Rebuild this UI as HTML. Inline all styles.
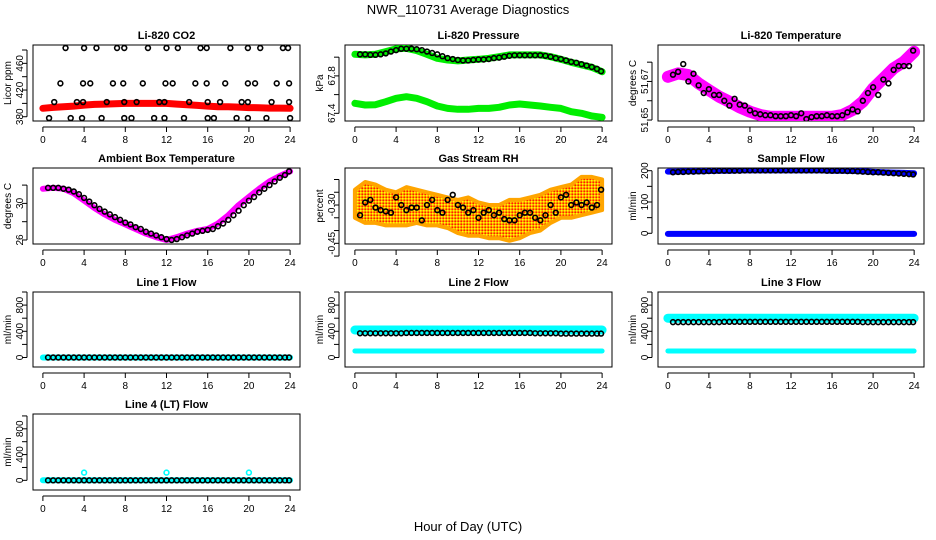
<!DOCTYPE html>
<html><head><meta charset="utf-8"><style>
body{margin:0;background:#fff;}
svg{display:block;font-family:"Liberation Sans",sans-serif;}
</style></head><body>
<svg id="chart" width="936" height="540" viewBox="0 0 936 540" xmlns="http://www.w3.org/2000/svg">
<rect width="936" height="540" fill="#fff"/>
<text x="468" y="14" text-anchor="middle" font-size="13">NWR_110731  Average Diagnostics</text>
<text x="468" y="531" text-anchor="middle" font-size="13">Hour of Day (UTC)</text>
<defs>
<pattern id="rhpat" width="3" height="3" patternUnits="userSpaceOnUse"><rect width="3" height="3" fill="#ffa500"/><rect width="1.5" height="1.5" fill="#ffff00"/><rect x="1.5" y="1.5" width="1.5" height="1.5" fill="#ff2000"/></pattern>
</defs>
<g id="plots"></g>
</svg>
<script>
// ---- data ----
const hourly = [0,1,2,3,4,5,6,7,8,9,10,11,12,13,14,15,16,17,18,19,20,21,22,23,24];
const halfHours = [0.5,1,1.5,2,2.5,3,3.5,4,4.5,5,5.5,6,6.5,7,7.5,8,8.5,9,9.5,10,10.5,11,11.5,12,12.5,13,13.5,14,14.5,15,15.5,16,16.5,17,17.5,18,18.5,19,19.5,20,20.5,21,21.5,22,22.5,23,23.5,23.9];
const xTicks = [0,4,8,12,16,20,24];

const co2Red = [392.6,394,395,396,397.5,398.5,399,399.5,400,400,400,400,400,399,398,397,396,395,395,394.5,393.7,393.5,393,393,392.6];
const co2BlackHours = [2.2,4.0,5.2,7.2,7.9,10.2,12.0,13.1,15.3,15.9,18.2,19.9,21.1,23.3,23.8, 1.7,3.9,4.6,6.8,7.8,9.7,11.9,12.6,14.8,15.9,17.7,19.9,20.6,22.7,23.9, 1.1,3.3,3.9,6.2,7.9,9.1,11.3,11.8,14.2,16.0,17.2,19.3,19.9,22.2,23.9, 0.6,2.7,3.8,5.7,7.9,8.6,10.8,11.8,13.7,16.0,16.6,18.8,19.9,21.7,24.0];
const co2BlackVals = [483,483,483,483,483,483,483,483,483,483,483,483,483,483,483, 430,430,430,430,430,430,430,430,430,430,430,430,430,430,430, 402,402,402,402,402,402,402,402,402,402,402,402,402,402,402, 378,378,378,378,378,378,378,378,378,378,378,378,378,378,378];

const presUpper = [68.031,68.024,68.031,68.059,68.088,68.095,68.07,68.031,67.988,67.97,67.96,67.97,67.977,67.988,68.005,68.024,68.024,68.024,68.024,68.005,67.977,67.945,67.917,67.892,67.845];
const presLower = [67.507,67.489,67.492,67.524,67.56,67.578,67.56,67.524,67.478,67.453,67.443,67.443,67.453,67.453,67.464,67.489,67.5,67.489,67.478,67.464,67.453,67.417,67.4,67.371,67.357];
const presBlack = [68.03,68.03,68.025,68.025,68.03,68.04,68.06,68.075,68.09,68.09,68.09,68.085,68.075,68.06,68.045,68.03,68.01,67.99,67.98,67.97,67.965,67.965,67.97,67.975,67.975,67.98,67.99,67.995,68.005,68.015,68.02,68.02,68.02,68.02,68.02,68.02,68.015,68.005,67.99,67.98,67.965,67.95,67.94,67.925,67.91,67.895,67.875,67.85];

const tempBand = [51.6724,51.6742,51.6733,51.669,51.6655,51.6621,51.6595,51.6566,51.6543,51.6526,51.6517,51.6517,51.6517,51.6517,51.6517,51.6517,51.6517,51.6526,51.6552,51.6595,51.6664,51.6716,51.6768,51.6802,51.6854];
const tempBlack = [51.6735,51.675,51.679,51.670,51.674,51.668,51.664,51.666,51.663,51.663,51.660,51.6575,51.661,51.658,51.6575,51.655,51.6535,51.653,51.6525,51.6525,51.652,51.652,51.652,51.6525,51.652,51.6535,51.6505,51.6515,51.652,51.652,51.6525,51.652,51.652,51.6525,51.654,51.6555,51.6545,51.660,51.664,51.667,51.663,51.671,51.669,51.676,51.678,51.678,51.678,51.686];

const ambLine = [31.6,31.7,31.6,31.1,30.3,29.5,28.8,28.2,27.7,27.2,26.7,26.3,26.0,26.3,26.7,27.0,27.2,27.8,28.7,29.8,30.7,31.6,32.4,33.0,33.5];
const ambBlack = [31.7,31.7,31.7,31.6,31.5,31.3,31.0,30.6,30.2,29.8,29.4,29.1,28.8,28.5,28.2,27.9,27.7,27.4,27.2,26.9,26.7,26.5,26.3,26.1,26.0,26.1,26.3,26.5,26.7,26.9,27.0,27.1,27.2,27.5,27.8,28.2,28.7,29.2,29.8,30.3,30.7,31.2,31.6,32.0,32.4,32.8,33.1,33.5];

const rhUpper = [-0.24,-0.21,-0.22,-0.24,-0.25,-0.23,-0.24,-0.25,-0.26,-0.27,-0.28,-0.27,-0.29,-0.30,-0.30,-0.28,-0.28,-0.27,-0.26,-0.24,-0.23,-0.22,-0.19,-0.19,-0.20];
const rhLower = [-0.35,-0.37,-0.37,-0.38,-0.38,-0.38,-0.37,-0.38,-0.38,-0.39,-0.41,-0.42,-0.42,-0.43,-0.43,-0.44,-0.43,-0.41,-0.40,-0.37,-0.35,-0.35,-0.34,-0.33,-0.32];
const rhBlack = [-0.34,-0.29,-0.28,-0.31,-0.32,-0.325,-0.33,-0.27,-0.30,-0.32,-0.31,-0.31,-0.36,-0.30,-0.28,-0.32,-0.33,-0.28,-0.26,-0.30,-0.31,-0.33,-0.32,-0.35,-0.33,-0.32,-0.34,-0.33,-0.355,-0.36,-0.36,-0.34,-0.33,-0.33,-0.35,-0.36,-0.34,-0.30,-0.33,-0.27,-0.26,-0.30,-0.29,-0.30,-0.29,-0.31,-0.30,-0.24];

const flowUpper = [197,197,198,198,199,200,200,201,201,201,201,201,201,201,201,201,200,200,199,198,196,195,194,193,192];
const flowLower = [-2,-2,-2,-2,-2,-2,-2,-2,-2,-2,-2,-2,-2,-2,-2,-2,-2,-2,-2,-2,-2,-2,-2,-2,-2];
const flowBlack = [195,196,196,197,197,198,198,199,199,200,200,200,200,200,201,201,201,201,201,201,201,201,201,201,201,201,201,201,201,201,200,200,200,200,199,199,198,197,196,195,195,194,193,192,191,190,189,188];

const line1Cyan = [0,0,0,0,0,0,0,0,0,0,0,0,0,0,0,0,0,0,0,0,0,0,0,0,0];
const line1Black = [0,0,0,0,0,0,0,0,0,0,0,0,0,0,0,0,0,0,0,0,0,0,0,0,0,0,0,0,0,0,0,0,0,0,0,0,0,0,0,0,0,0,0,0,0,0,0,0];
const line2CyanUp = [420,420,420,420,420,420,420,420,420,420,420,420,420,420,420,420,420,420,420,420,420,420,420,420,420];
const line2CyanLow = [100,100,100,100,100,100,100,100,100,100,100,100,100,100,100,100,100,100,100,100,100,100,100,100,100];
const line2Black = [370,370,370,370,370,370,370,370,370,375,375,375,375,375,375,375,375,375,375,375,375,375,375,375,375,375,375,375,375,375,375,375,375,375,370,370,370,370,370,365,365,365,365,365,365,365,365,365];
const line3CyanUp = [600,600,600,600,600,600,600,600,600,600,600,600,600,600,600,600,600,600,600,600,600,600,600,600,600];
const line3CyanLow = [100,100,100,100,100,100,100,100,100,100,100,100,100,100,100,100,100,100,100,100,100,100,100,100,100];
const line3Black = [540,540,540,540,540,540,540,540,540,540,545,545,545,545,545,545,545,545,545,545,545,545,545,545,545,545,545,545,545,545,545,545,545,545,545,545,545,540,540,540,540,540,540,540,540,540,540,540];
const line4Cyan = [0,0,0,0,0,0,0,0,0,0,0,0,0,0,0,0,0,0,0,0,0,0,0,0,0];
const line4OutHours = [4,12,20];
const line4OutVals = [120,120,120];
const line4Black = [0,0,0,0,0,0,0,0,0,0,0,0,0,0,0,0,0,0,0,0,0,0,0,0,0,0,0,0,0,0,0,0,0,0,0,0,0,0,0,0,0,0,0,0,0,0,0,0];

// ---- layout ----
const NS = "http://www.w3.org/2000/svg";
const root = document.getElementById('plots');
const colL = [33,345,658], colR = [300,612,924];
const rowT = [45,168,292,414], rowB = [121,244,367,490];
const XMIN = -0.96, XMAX = 24.96;

function mk(tag, attrs, parent){
  const e = document.createElementNS(NS, tag);
  for (const k in attrs) e.setAttribute(k, attrs[k]);
  (parent||root).appendChild(e);
  return e;
}

function panel(c, r, title, ylab, ymin, ymax, yticks, ylabels, key){
  const L=colL[c], R=colR[c], T=rowT[r], B=rowB[r];
  const g = mk('g', {});
  
  
  const p = {g, L, R, T, B,
    x: h => L + (h - XMIN) / (XMAX - XMIN) * (R - L),
    y: v => B - (v - ymin) / (ymax - ymin) * (B - T)};
  const box = mk('rect', {x:L, y:T, width:R-L, height:B-T, fill:'none', stroke:'#000', 'stroke-width':1}, g);
  
  
  const t = mk('text', {x:(L+R)/2, y:T-6, 'text-anchor':'middle', 'font-size':11, 'font-weight':'bold'}, g);
  t.textContent = title;
  
  
  const yl = mk('text', {transform:`translate(${L-22},${(T+B)/2}) rotate(-90)`, 'text-anchor':'middle', 'font-size':10}, g);
  yl.textContent = ylab;
  
  
  // x axis
  mk('line', {x1:p.x(0), x2:p.x(24), y1:B+6, y2:B+6, stroke:'#000'}, g);
  xTicks.forEach(h => {
    mk('line', {x1:p.x(h), x2:p.x(h), y1:B+6, y2:B+11, stroke:'#000'}, g);
    const tl = mk('text', {x:p.x(h), y:B+22, 'text-anchor':'middle', 'font-size':10}, g);
    tl.textContent = h;
    
    
  });
  // y axis
  mk('line', {x1:L-6, x2:L-6, y1:p.y(yticks[0]), y2:p.y(yticks[yticks.length-1]), stroke:'#000'}, g);
  yticks.forEach((v,i) => {
    mk('line', {x1:L-11, x2:L-6, y1:p.y(v), y2:p.y(v), stroke:'#000'}, g);
    if (ylabels[i]) {
      const tl = mk('text', {transform:`translate(${L-10},${p.y(v)}) rotate(-90)`, 'text-anchor':'middle', 'font-size':10}, g);
      tl.textContent = ylabels[i];
      
      
    }
  });
  const clip = mk('clipPath', {id:'clip'+key}, g);
  mk('rect', {x:L, y:T, width:R-L, height:B-T}, clip);
  p.d = mk('g', {'clip-path':`url(#clip${key})`}, g);
  return p;
}

function band(p, xs, vs, color, w, name){
  const pts = xs.map((h,i) => p.x(h).toFixed(1) + ',' + p.y(vs[i]).toFixed(1)).join(' ');
  const e = mk('polyline', {points:pts, fill:'none', stroke:color, 'stroke-width':w, 'stroke-linecap':'round', 'stroke-linejoin':'round'}, p.d);
  
  
}
function area(p, xs, up, low, fill, name){
  const a = xs.map((h,i) => p.x(h).toFixed(1) + ',' + p.y(up[i]).toFixed(1));
  const b = xs.map((h,i) => p.x(h).toFixed(1) + ',' + p.y(low[i]).toFixed(1)).reverse();
  const e = mk('polygon', {points:a.concat(b).join(' '), fill:fill, stroke:'#ffa500', 'stroke-width':4, 'stroke-linejoin':'round'}, p.d);
  
  
}
function circles(p, xs, vs, color, name){
  xs.forEach((h,i) => {
    const e = mk('circle', {cx:p.x(h), cy:p.y(vs[i]), r:2.4, fill:'none', stroke:color, 'stroke-width':1.6}, p.d);
    
    
  });
}

let p;
p = panel(0,0,'Li-820 CO2','Licor ppm',373.6,487.5,[380,400,420,440,460,480],['380','','420','','460',''],'co2');
band(p, hourly, co2Red, '#ff0000', 7, 'co2-red-series');
circles(p, co2BlackHours, co2BlackVals, '#000', 'co2-black-point');

p = panel(1,0,'Li-820 Pressure','kPa',67.318,68.13,[67.4,67.6,67.8,68.0],['67.4','','67.8',''],'pressure');
band(p, hourly, presUpper, '#00ee00', 7, 'pressure-upper-series');
band(p, hourly, presLower, '#00ee00', 7, 'pressure-lower-series');
circles(p, halfHours, presBlack, '#000', 'pressure-black-point');

p = panel(2,0,'Li-820 Temperature','degrees C',51.6495,51.6889,[51.65,51.66,51.67,51.68],['51.65','','51.67',''],'temperature');
band(p, hourly, tempBand, '#ff00ff', 12, 'temperature-magenta-series');
circles(p, halfHours, tempBlack, '#000', 'temperature-black-point');

p = panel(0,1,'Ambient Box Temperature','degrees C',25.56,33.87,[26,28,30,32],['26','','30',''],'ambient');
band(p, hourly, ambLine, '#ff00ff', 6, 'ambient-magenta-series');
circles(p, halfHours, ambBlack, '#000', 'ambient-black-point');

p = panel(1,1,'Gas Stream RH','percent',-0.4527,-0.155,[-0.5,-0.45,-0.4,-0.35,-0.3,-0.25,-0.2],['','-0.45','','','-0.30','',''],'rh');
area(p, hourly, rhUpper, rhLower, 'url(#rhpat)', 'rh-orange-cloud');
circles(p, halfHours, rhBlack, '#000', 'rh-black-point');

p = panel(2,1,'Sample Flow','ml/min',-34.2,208.6,[0,50,100,150,200],['0','','100','','200'],'sampleflow');
band(p, hourly, flowUpper, '#0000ff', 6, 'sampleflow-upper-series');
band(p, hourly, flowLower, '#0000ff', 6, 'sampleflow-lower-series');
circles(p, halfHours, flowBlack, '#000', 'sampleflow-black-point');

const fT = [0,200,400,600,800,1000], fL = ['0','','400','','800',''];
p = panel(0,2,'Line 1 Flow','ml/min',-145,1000,fT,fL,'line1');
band(p, hourly, line1Cyan, '#00ffff', 6, 'line1-cyan-series');
circles(p, halfHours, line1Black, '#000', 'line1-black-point');

p = panel(1,2,'Line 2 Flow','ml/min',-145,1000,fT,fL,'line2');
band(p, hourly, line2CyanUp, '#00ffff', 9, 'line2-cyan-upper-series');
band(p, hourly, line2CyanLow, '#00ffff', 5, 'line2-cyan-lower-series');
circles(p, halfHours, line2Black, '#000', 'line2-black-point');

p = panel(2,2,'Line 3 Flow','ml/min',-145,1000,fT,fL,'line3');
band(p, hourly, line3CyanUp, '#00ffff', 9, 'line3-cyan-upper-series');
band(p, hourly, line3CyanLow, '#00ffff', 5, 'line3-cyan-lower-series');
circles(p, halfHours, line3Black, '#000', 'line3-black-point');

p = panel(0,3,'Line 4 (LT) Flow','ml/min',-150,1030,fT,fL,'line4');
band(p, hourly, line4Cyan, '#00ffff', 6, 'line4-cyan-series');
circles(p, line4OutHours, line4OutVals, '#00ffff', 'line4-cyan-outlier');
circles(p, halfHours, line4Black, '#000', 'line4-black-point');
</script>
</body></html>
